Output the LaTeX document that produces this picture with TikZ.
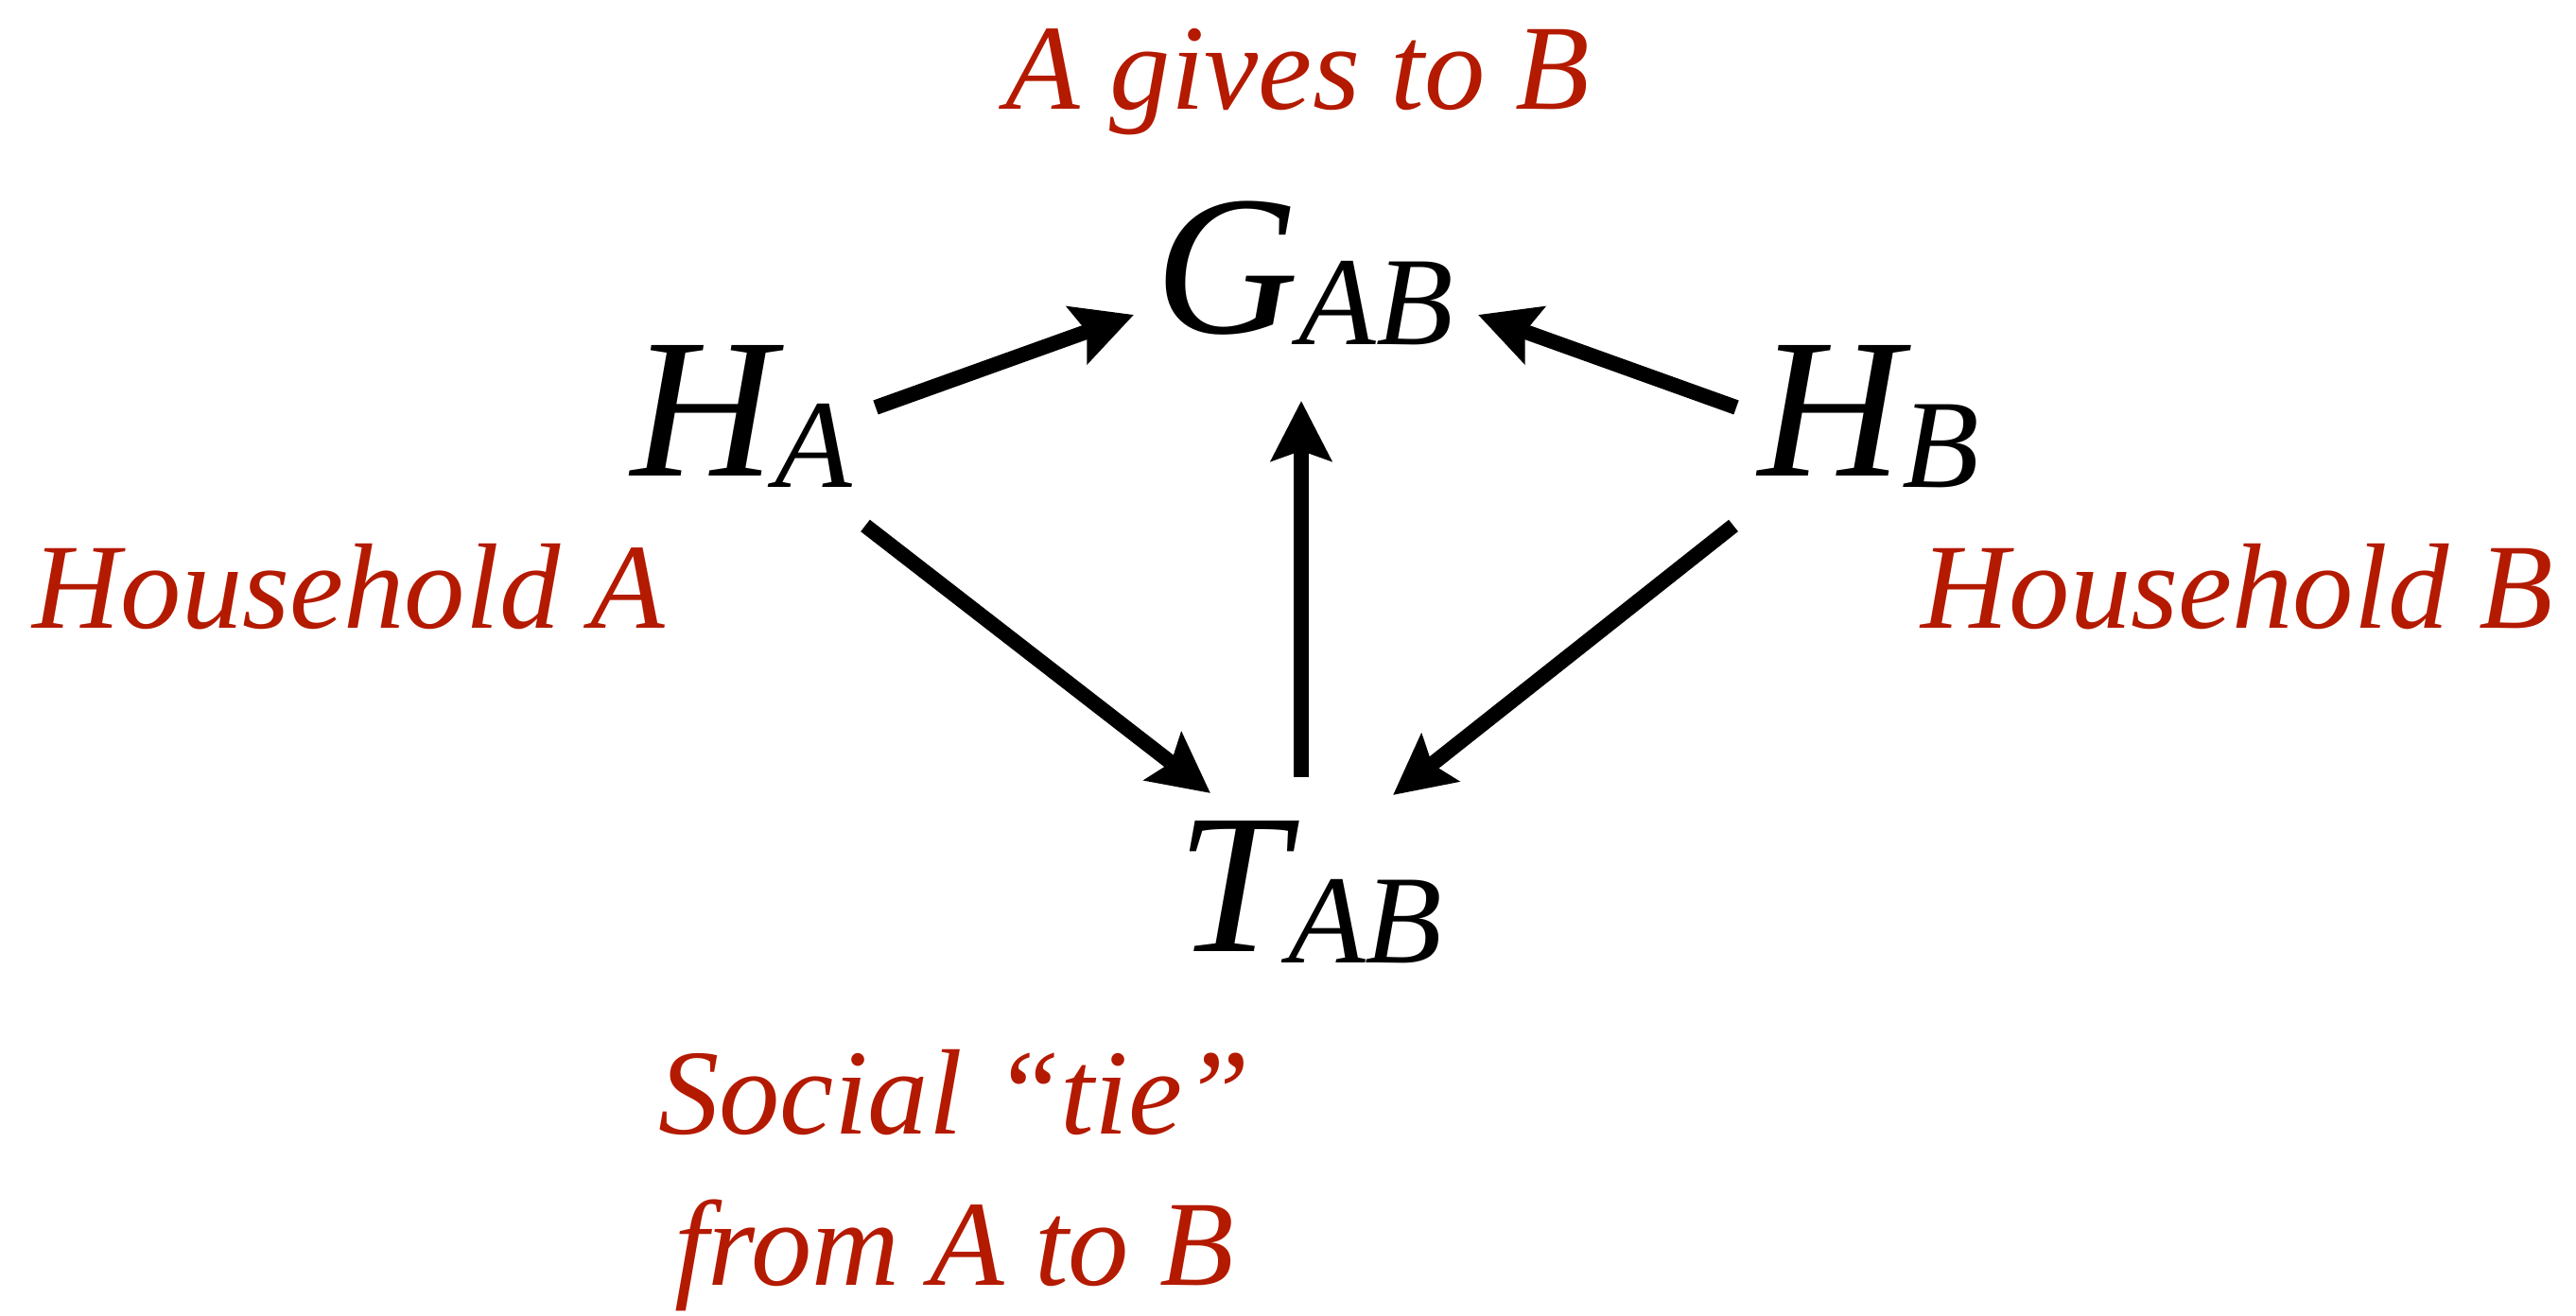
\documentclass[tikz,border=0pt]{standalone}
\usepackage{fontspec}
\setmainfont{Liberation Serif}
\usepackage{tikz}
\usetikzlibrary{positioning, arrows.meta}
\definecolor{hhRed}{HTML}{B41A00}
\newcommand{\varsub}[2]{#1\raisebox{-0.12ex}{\fontsize{38}{38}\selectfont #2}}

\begin{document}
\begin{tikzpicture}[
  var/.style={inner sep=0pt, anchor=base, font=\fontsize{60}{60}\selectfont\itshape},
  lab/.style={inner sep=0pt, anchor=base, text=hhRed, align=center,
              font=\fontsize{36.6}{45.5}\selectfont\itshape},
  arr/.style={-{Stealth[length=18pt, width=18pt, inset=3pt]}, line width=4.5pt}
]
\useasboundingbox (0,0) rectangle (27.24,13.92);

\node[var] (gab) at (13.79,10.39) {\varsub{G}{AB}};
\node[var] (ha) at (7.84,8.88) {\varsub{H}{A}};
\node[var] (hb) at (19.76,8.88) {\varsub{H}{B}};
\node[var] (tab) at (13.85,3.85) {\varsub{T}{AB}};

\node[lab] (gives) at (13.72,12.76) {A gives to B};
\node[lab] (hha) at (3.69,7.27) {Household A};
\node[lab] (hhb) at (23.66,7.27) {Household B};
\node[lab, anchor=north] (tie) at (10.09,2.82) {Social “tie”\\from A to B};

% arrows
\draw[arr] ([shift={(1.42,0.73)}]ha.base) -- ([shift={(-1.80,0.20)}]gab.base);
\draw[arr] ([shift={(-1.40,0.73)}]hb.base) -- ([shift={(1.84,0.20)}]gab.base);
\draw[arr] ([shift={(1.31,-0.52)}]ha.base) -- ([shift={(-1.05,1.68)}]tab.base);
\draw[arr] ([shift={(-1.43,-0.52)}]hb.base) -- ([shift={(0.88,1.66)}]tab.base);
\draw[arr] ([shift={(-0.09,1.85)}]tab.base) -- ([shift={(-0.03,-0.71)}]gab.base);
\end{tikzpicture}
\end{document}
